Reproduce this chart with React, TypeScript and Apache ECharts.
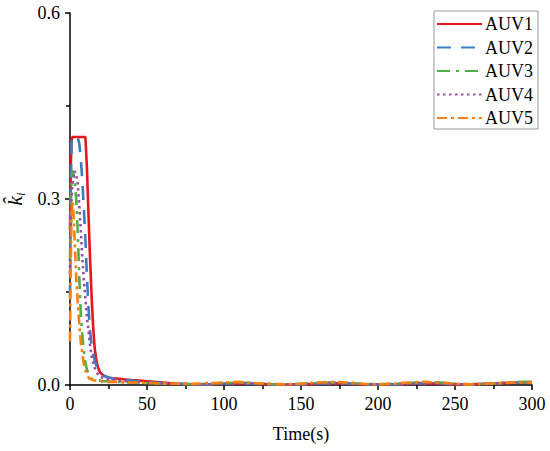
import React, { useEffect, useRef } from "react";
import * as echarts from "echarts";

const times = [0, 0.5, 1, 1.5, 2, 3, 4, 5, 6, 7, 8, 9, 10, 11, 12, 13, 14, 15, 16, 17, 18, 19, 20, 22, 25, 28, 32, 36, 40, 45, 50, 55, 60, 70, 80, 90, 100, 110, 120, 130, 140, 150, 160, 170, 180, 190, 200, 210, 220, 230, 240, 250, 260, 270, 280, 290, 300];

const auv1 = [0.25, 0.35, 0.395, 0.4, 0.4, 0.4, 0.4, 0.4, 0.4, 0.4, 0.4, 0.4, 0.4, 0.35, 0.275, 0.205, 0.145, 0.095, 0.06, 0.042, 0.03, 0.023, 0.019, 0.015, 0.012, 0.011, 0.01, 0.009, 0.008, 0.007, 0.006, 0.005, 0.004, 0.002, 0.001, 0.001, 0.002, 0.003, 0.002, 0.001, 0.0005, 0.001, 0.002, 0.003, 0.002, 0.001, 0.0005, 0.001, 0.002, 0.003, 0.002, 0.001, 0.001, 0.002, 0.003, 0.004, 0.004];

const auv2 = [0.14, 0.32, 0.39, 0.4, 0.4, 0.4, 0.4, 0.4, 0.39, 0.365, 0.33, 0.285, 0.235, 0.175, 0.125, 0.088, 0.065, 0.05, 0.04, 0.032, 0.026, 0.022, 0.019, 0.015, 0.012, 0.01, 0.009, 0.008, 0.007, 0.006, 0.005, 0.004, 0.003, 0.002, 0.001, 0.001, 0.002, 0.003, 0.002, 0.001, 0.001, 0.001, 0.002, 0.003, 0.003, 0.001, 0.001, 0.001, 0.002, 0.003, 0.003, 0.001, 0.001, 0.002, 0.003, 0.004, 0.004];

const auv3 = [0.2, 0.29, 0.33, 0.345, 0.345, 0.33, 0.3, 0.25, 0.175, 0.115, 0.08, 0.055, 0.036, 0.025, 0.018, 0.013, 0.01, 0.009, 0.008, 0.008, 0.007, 0.007, 0.007, 0.006, 0.006, 0.005, 0.005, 0.004, 0.004, 0.004, 0.003, 0.003, 0.002, 0.002, 0.001, 0.002, 0.003, 0.004, 0.003, 0.001, 0.001, 0.002, 0.003, 0.004, 0.003, 0.002, 0.001, 0.002, 0.003, 0.005, 0.004, 0.002, 0.001, 0.002, 0.003, 0.005, 0.005];

const auv4 = [0.18, 0.26, 0.3, 0.32, 0.33, 0.345, 0.34, 0.325, 0.29, 0.25, 0.205, 0.17, 0.14, 0.11, 0.088, 0.065, 0.047, 0.036, 0.028, 0.022, 0.018, 0.015, 0.013, 0.011, 0.009, 0.008, 0.007, 0.006, 0.005, 0.004, 0.004, 0.003, 0.003, 0.002, 0.001, 0.001, 0.002, 0.003, 0.002, 0.001, 0.001, 0.001, 0.002, 0.003, 0.002, 0.001, 0.001, 0.001, 0.002, 0.003, 0.003, 0.001, 0.001, 0.002, 0.003, 0.004, 0.004];

const auv5 = [0.07, 0.2, 0.27, 0.295, 0.29, 0.235, 0.175, 0.135, 0.1, 0.07, 0.05, 0.034, 0.024, 0.017, 0.012, 0.01, 0.009, 0.008, 0.007, 0.007, 0.006, 0.006, 0.006, 0.005, 0.005, 0.005, 0.005, 0.004, 0.004, 0.004, 0.003, 0.003, 0.002, 0.002, 0.002, 0.003, 0.004, 0.005, 0.003, 0.002, 0.001, 0.002, 0.004, 0.005, 0.004, 0.002, 0.001, 0.002, 0.004, 0.005, 0.004, 0.002, 0.001, 0.002, 0.003, 0.004, 0.004];

const seriesNames = ["AUV1", "AUV2", "AUV3", "AUV4", "AUV5"];
const seriesValues = [auv1, auv2, auv3, auv4, auv5];
const seriesColors = ["#E8161B", "#3A7DC0", "#4DAF4A", "#984EA3", "#FF7F0E"];
const seriesDash: (string | number[])[] = ["solid", [14, 10], [13, 6, 3, 6], [2.5, 3.5], [10, 4, 3, 4]];

const FONT = "'Liberation Serif', 'Times New Roman', serif";

export default function App() {
  const ref = useRef<HTMLDivElement>(null);
  useEffect(() => {
    if (!ref.current) return;
    const chart = echarts.init(ref.current, undefined, { renderer: "svg" });
    const series = seriesNames.map((name, si) => ({
      name,
      type: "line",
      symbol: "none",
      showSymbol: false,
      smooth: false,
      data: times.map((t, i) => [t, seriesValues[si][i]]),
      lineStyle: { color: seriesColors[si], width: 2.6, type: seriesDash[si] },
      itemStyle: { color: seriesColors[si] },
    }));
    chart.setOption({
      animation: false,
      backgroundColor: "#fff",
      grid: { left: 70, right: 18, top: 13, bottom: 66, containLabel: false, outerBoundsMode: "none" },
      legend: {
        show: true,
        orient: "vertical",
        left: 434,
        top: 11,
        padding: [4, 5, 2, 2],
        itemWidth: 45,
        itemHeight: 14,
        itemGap: 5.5,
        borderColor: "#999",
        borderWidth: 1,
        borderRadius: 0,
        backgroundColor: "#fff",
        itemStyle: { opacity: 0 },
        textStyle: { fontFamily: FONT, fontSize: 18, color: "#000", lineHeight: 18, padding: [0, 0, 0, -2] },
        data: seriesNames,
      },
      xAxis: {
        type: "value",
        min: 0,
        max: 300,
        interval: 50,
        name: "Time(s)",
        nameLocation: "middle",
        nameGap: 40,
        nameTextStyle: { fontFamily: FONT, fontSize: 18, color: "#000" },
        axisLine: { show: true, onZero: false, lineStyle: { color: "#000", width: 1.5 } },
        axisTick: { show: true, inside: false, length: 5, lineStyle: { color: "#000", width: 1.5 } },
        minorTick: { show: true, splitNumber: 2, length: 4, lineStyle: { color: "#000", width: 1.5 } },
        axisLabel: { fontFamily: FONT, fontSize: 18, color: "#000", margin: 10 },
        splitLine: { show: false },
        minorSplitLine: { show: false },
      },
      yAxis: {
        type: "value",
        min: 0,
        max: 0.6,
        interval: 0.3,
        name: "{k|k\u0302}{i|i}",
        nameLocation: "middle",
        nameRotate: 90,
        nameGap: 38,
        nameTextStyle: {
          rich: {
            k: { fontFamily: FONT, fontStyle: "italic", fontSize: 22, color: "#000", lineHeight: 24 },
            i: { fontFamily: FONT, fontStyle: "italic", fontSize: 13, color: "#000", lineHeight: 12, verticalAlign: "bottom" },
          },
        },
        axisLine: { show: true, onZero: false, lineStyle: { color: "#000", width: 1.5 } },
        axisTick: { show: true, inside: false, length: 5, lineStyle: { color: "#000", width: 1.5 } },
        minorTick: { show: true, splitNumber: 2, length: 4, lineStyle: { color: "#000", width: 1.5 } },
        axisLabel: {
          fontFamily: FONT,
          fontSize: 18,
          color: "#000",
          margin: 10,
          formatter: (v: number) => v.toFixed(1),
        },
        splitLine: { show: false },
        minorSplitLine: { show: false },
      },
      series,
    });
    return () => chart.dispose();
  }, []);
  return <div ref={ref} style={{ position: "absolute", left: 0, top: 0, width: 550, height: 451 }} />;
}
